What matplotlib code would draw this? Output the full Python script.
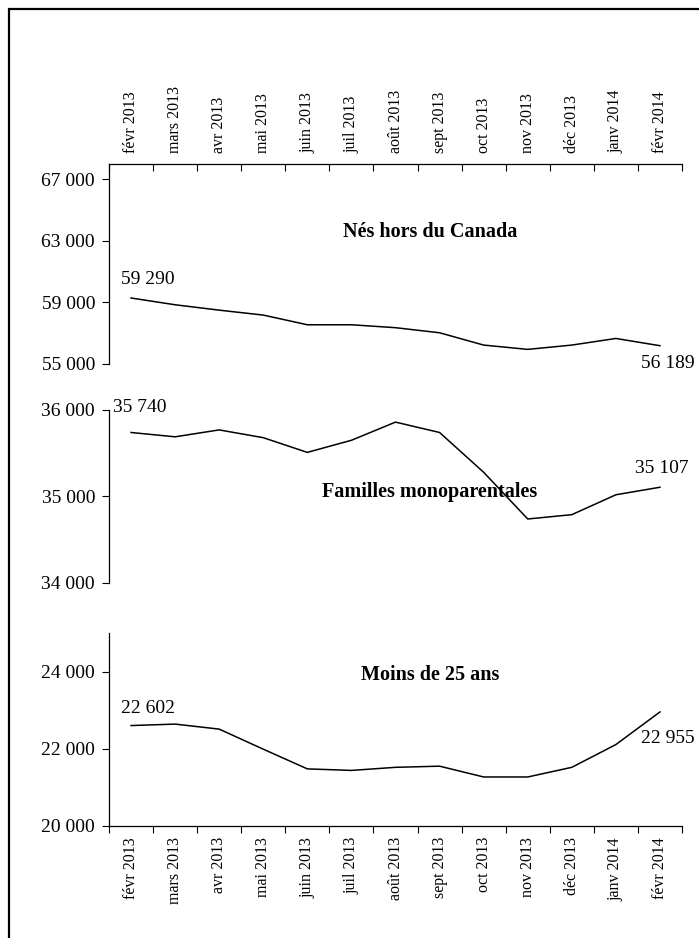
"""Three stacked line panels, Feb 2013 - Feb 2014"""

import matplotlib
matplotlib.use('Agg')
import matplotlib.pyplot as plt
from matplotlib.patches import Rectangle

plt.rcParams['font.family'] = ['Liberation Serif', 'DejaVu Serif']

months = ['févr 2013', 'mars 2013', 'avr 2013', 'mai 2013', 'juin 2013',
          'juil 2013', 'août 2013', 'sept 2013', 'oct 2013', 'nov 2013',
          'déc 2013', 'janv 2014', 'févr 2014']

nes_hors_canada = [59290, 58850, 58500, 58180, 57550, 57550, 57360,
                   57030, 56230, 55950, 56230, 56660, 56189]
familles_mono = [35740, 35690, 35770, 35680, 35510, 35650, 35860,
                 35740, 35280, 34740, 34790, 35020, 35107]
moins_25 = [22602, 22640, 22510, 21990, 21480, 21440, 21520,
            21550, 21270, 21270, 21520, 22110, 22955]

titles = ['Nés hors du Canada', 'Familles monoparentales', 'Moins de 25 ans']
yticks_1 = [55000, 59000, 63000, 67000]
yticks_2 = [34000, 35000, 36000]
yticks_3 = [20000, 22000, 24000]


def fmt(value):
    """French style thousands separator"""
    return f'{value:,}'.replace(',', ' ')


def label_ends(axis, values, first_off, last_off):
    """Write the first and last value next to the line"""
    xs = range(len(values))
    axis.annotate(fmt(values[0]), (xs[0], values[0]), xytext=first_off,
                  textcoords='offset pixels', ha='center', va='center',
                  fontsize=14)
    axis.annotate(fmt(values[-1]), (xs[-1], values[-1]), xytext=last_off,
                  textcoords='offset pixels', ha='center', va='center',
                  fontsize=14)


def base_axis(fig, rect, values, yticks, ylim, title, title_y):
    """One panel with the common styling"""
    axis = fig.add_axes(rect)
    axis.plot(range(len(values)), values, color='black', linewidth=1.1)
    axis.set_xlim(-0.5, len(values) - 0.5)
    axis.set_ylim(*ylim)
    axis.set_yticks(yticks)
    axis.set_yticklabels([fmt(t) for t in yticks], fontsize=14)
    axis.tick_params(axis='y', direction='out', length=5, width=0.8,
                     pad=5)
    for side in ['right', 'top', 'bottom']:
        axis.spines[side].set_visible(False)
    axis.spines['left'].set_linewidth(0.9)
    axis.text(0.56, title_y, title, transform=axis.transAxes,
              ha='center', va='center', fontsize=14.5, fontweight='bold')
    axis.set_facecolor('none')
    return axis


def month_axis(axis, where):
    """Category ticks between months, labels on months"""
    n = len(months)
    axis.set_xticks([i - 0.5 for i in range(n + 1)])
    axis.set_xticklabels([])
    axis.set_xticks(range(n), minor=True)
    axis.set_xticklabels(months, minor=True, rotation=90, fontsize=11.5)
    axis.spines[where].set_visible(True)
    axis.spines[where].set_linewidth(0.9)
    if where == 'top':
        axis.xaxis.tick_top()
        axis.tick_params(axis='x', which='major', direction='in',
                         length=5, width=0.8)
    else:
        axis.tick_params(axis='x', which='major', direction='out',
                         length=5, width=0.8)
    axis.tick_params(axis='x', which='minor', length=0, pad=8)


fig = plt.figure(figsize=(6.99, 9.38), dpi=100)
W, H = 699.0, 938.0

# frame around the whole picture
fig.patches.append(Rectangle((9 / W, -0.02), 1.05, 1 - 9 / H + 0.02,
                             transform=fig.transFigure, fill=False,
                             edgecolor='black', linewidth=1.6))

left = 109 / W
width = 573 / W

ax1 = base_axis(fig, [left, 1 - 364 / H, width, 200 / H], nes_hors_canada,
                yticks_1, (55000, 68000), titles[0], 0.66)
month_axis(ax1, 'top')
label_ends(ax1, nes_hors_canada, (17, 18), (8, -18))

ax2 = base_axis(fig, [left, 1 - 583 / H, width, 173 / H], familles_mono,
                yticks_2, (34000, 36000), titles[1], 0.526)
ax2.set_xticks([])
label_ends(ax2, familles_mono, (9, 25), (2, 19))

ax3 = base_axis(fig, [left, 1 - 826 / H, width, 193 / H], moins_25,
                yticks_3, (20000, 25000), titles[2], 0.782)
month_axis(ax3, 'bottom')
label_ends(ax3, moins_25, (17, 17), (8, -27))

fig.savefig('out.png', dpi=100)
